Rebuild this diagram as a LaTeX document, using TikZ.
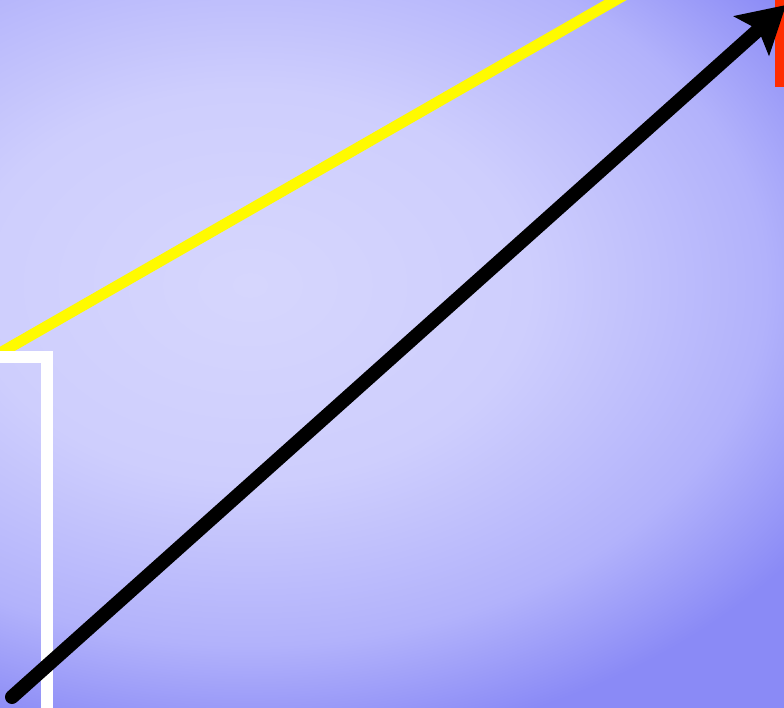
\documentclass[tikz,border=0pt]{standalone}
\usetikzlibrary{arrows.meta}
\definecolor{bgA}{RGB}{214,214,253}
\definecolor{bgB}{RGB}{206,206,253}
\definecolor{bgM}{RGB}{178,178,251}
\definecolor{bgC}{RGB}{138,138,246}
\definecolor{redc}{RGB}{255,45,0}
\definecolor{yel}{RGB}{255,250,0}
\pgfdeclareradialshading{bgshade}{\pgfpoint{0bp}{0bp}}{color(0bp)=(bgA); color(20bp)=(bgB); color(37bp)=(bgM); color(48bp)=(bgC); color(50bp)=(bgC)}
\begin{document}
\begin{tikzpicture}[x=1pt,y=-1pt,
  vec/.style={line width=14pt, line cap=round, -{Stealth[length=46pt,width=52pt,inset=9pt]}},
  ray/.style={yel, line width=11pt},
  frame/.style={white, line width=12pt}]
\useasboundingbox (0,0) rectangle (784,707);
\begin{scope}
\clip (0,0) rectangle (784,707);
\fill[bgC] (-5,-5) rectangle (790,712);
\begin{pgfscope}
\pgftransformshift{\pgfpoint{250pt}{-285pt}}
\pgftransformxscale{13.9}
\pgftransformyscale{9.7}
\pgflowlevelsynccm
\pgfuseshading{bgshade}
\end{pgfscope}
\fill[redc] (775,0) rectangle (790,87);
\coordinate (y1) at (-20,364.5);
\coordinate (y2) at (640,-14);
\draw[ray] (y1) -- (y2);
\coordinate (w1) at (-10,357);
\coordinate (w2) at (47,357);
\coordinate (w3) at (47,720);
\draw[frame] (w1) -- (w2) -- (w3);
\coordinate (a1) at (12,697);
\coordinate (a2) at (786,5);
\draw[vec] (a1) -- (a2);
\end{scope}
\end{tikzpicture}
\end{document}
